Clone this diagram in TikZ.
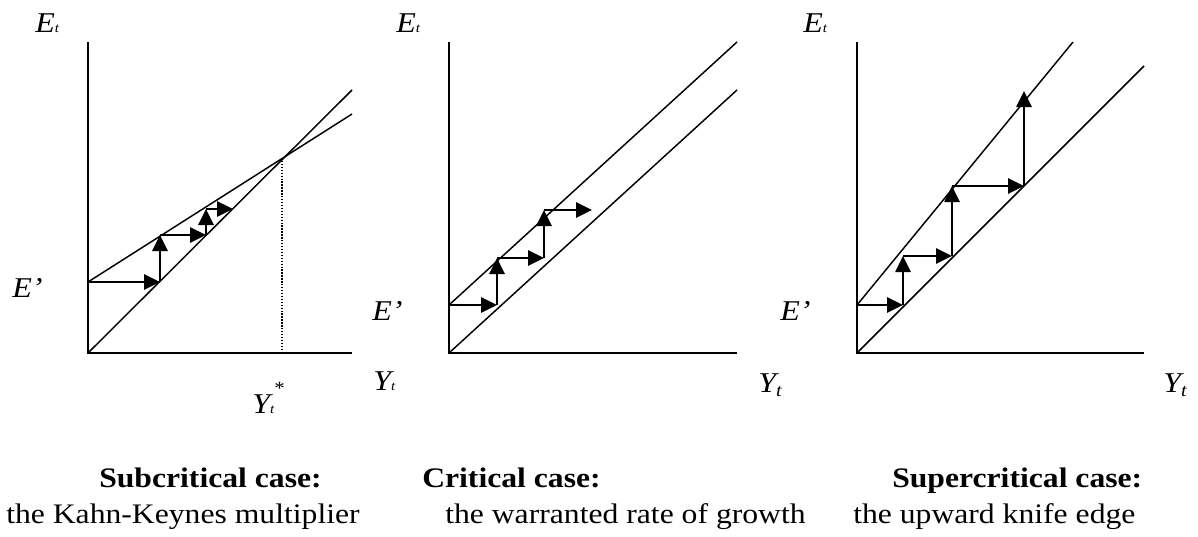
\documentclass[tikz,border=0pt]{standalone}
\usepackage{fontspec}
\setmainfont{Liberation Serif}[FakeStretch=1.12]
\usetikzlibrary{arrows.meta}
\newcommand{\tsub}{{\fontsize{10}{11}\selectfont t}}
\newcommand{\msub}{\raisebox{-3pt}{\fontsize{13.5}{14}\selectfont t}}
\begin{document}
\begin{tikzpicture}[x=0.75pt,y=-0.75pt,
  axis/.style={line width=1.9pt, line join=miter},
  curve/.style={line width=1.1pt},
  stepar/.style={line width=1.25pt,-{Triangle[length=12pt,width=11.5pt]}},
  dotline/.style={line width=0.8pt, dash pattern=on 1pt off 1.2pt},
  lab/.style={font=\fontsize{21.5}{24}\selectfont\itshape, anchor=base west, inner sep=0pt},
  capt/.style={font=\fontsize{21.2}{25}\selectfont, anchor=base west, inner sep=0pt},
  captb/.style={capt, font=\fontsize{21.2}{25}\selectfont\bfseries},
]
\useasboundingbox (0,0) rectangle (1198,536);

% ---------- Panel 1: subcritical ----------
\coordinate (o1) at (88,353);
\coordinate (t1) at (88,42);
\coordinate (r1) at (352,353);
\coordinate (l1) at (352,90);
\coordinate (ua1) at (88,282);
\coordinate (ub1) at (352,114);
\coordinate (eq1) at (282,158);
\coordinate (eqb1) at (282,353);
\draw[axis] (t1) -- (o1) -- (r1);
\draw[curve] (o1) -- (l1);
\draw[curve] (ua1) -- (ub1);
\draw[dotline] (eq1) -- (eqb1);
\coordinate (s1a) at (160,282);
\coordinate (s1b) at (160,235);
\coordinate (s1c) at (206,235);
\coordinate (s1d) at (206,209);
\coordinate (s1e) at (233,209);
\draw[stepar] (ua1) -- (s1a);
\draw[stepar] (s1a) -- (s1b);
\draw[stepar] (s1b) -- (s1c);
\draw[stepar] (s1c) -- (s1d);
\draw[stepar] (s1d) -- (s1e);
\node[lab] (E1) at (35,32) {E\tsub};
\node[lab] (Ep1) at (12,297) {E’};
\node[lab] (Y1) at (373,390) {Y\tsub};
\node[lab] (Ys1) at (252,413) {Y\tsub\raisebox{14pt}{\fontsize{14}{15}\selectfont\upshape *}};

% ---------- Panel 2: critical ----------
\coordinate (o2) at (449,353);
\coordinate (t2) at (449,42);
\coordinate (r2) at (737,353);
\coordinate (l2) at (737,90);
\coordinate (ua2) at (449,305);
\coordinate (ub2) at (737,42);
\draw[axis] (t2) -- (o2) -- (r2);
\draw[curve] (o2) -- (l2);
\draw[curve] (ua2) -- (ub2);
\coordinate (s2a) at (497,305);
\coordinate (s2b) at (497,258);
\coordinate (s2c) at (544,258);
\coordinate (s2d) at (544,210);
\coordinate (s2e) at (592,210);
\draw[stepar] (ua2) -- (s2a);
\draw[stepar] (s2a) -- (s2b);
\draw[stepar] (s2b) -- (s2c);
\draw[stepar] (s2c) -- (s2d);
\draw[stepar] (s2d) -- (s2e);
\node[lab] (E2) at (396,32) {E\tsub};
\node[lab] (Ep2) at (372,320) {E’};
\node[lab] (Y2) at (758,392) {Y\msub};

% ---------- Panel 3: supercritical ----------
\coordinate (o3) at (857,353);
\coordinate (t3) at (857,42);
\coordinate (r3) at (1144,353);
\coordinate (l3) at (1144,66);
\coordinate (ua3) at (857,305);
\coordinate (ub3) at (1073,42);
\draw[axis] (t3) -- (o3) -- (r3);
\draw[curve] (o3) -- (l3);
\draw[curve] (ua3) -- (ub3);
\coordinate (s3a) at (903,305);
\coordinate (s3b) at (903,256);
\coordinate (s3c) at (952,256);
\coordinate (s3d) at (952,186);
\coordinate (s3e) at (1024,186);
\coordinate (s3f) at (1024,91);
\draw[stepar] (ua3) -- (s3a);
\draw[stepar] (s3a) -- (s3b);
\draw[stepar] (s3b) -- (s3c);
\draw[stepar] (s3c) -- (s3d);
\draw[stepar] (s3d) -- (s3e);
\draw[stepar] (s3e) -- (s3f);
\node[lab] (E3) at (803,32) {E\tsub};
\node[lab] (Ep3) at (780,320) {E’};
\node[lab] (Y3) at (1163,392) {Y\msub};

% ---------- Captions ----------
\node[captb] (c1a) at (99,487) {Subcritical case:};
\node[capt] (c1b) at (6,523) {the Kahn-Keynes multiplier};
\node[captb] (c2a) at (422,487) {Critical case:};
\node[capt] (c2b) at (445,523) {the warranted rate of growth};
\node[captb] (c3a) at (892,487) {Supercritical case:};
\node[capt] (c3b) at (853,523) {the upward knife edge};
\end{tikzpicture}
\end{document}
